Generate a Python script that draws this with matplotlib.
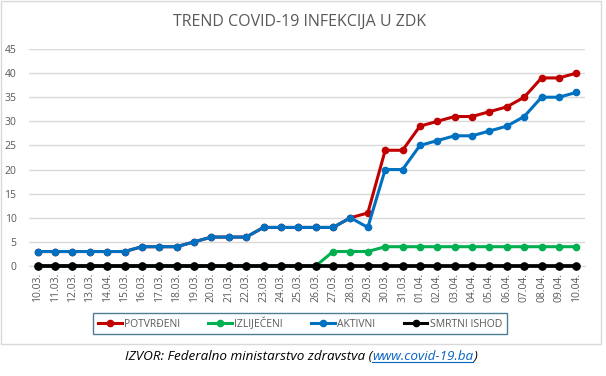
import numpy as np
import matplotlib.pyplot as plt
from matplotlib.lines import Line2D
from matplotlib.patches import Rectangle

plt.rcParams['font.family'] = ['Open Sans', 'DejaVu Sans']

dates = ['10.03.', '11.03.', '12.03.', '13.03.', '14.04.', '15.03.', '16.03.', '17.03.',
         '18.03.', '19.03.', '20.03.', '21.03.', '22.03.', '23.03.', '24.03.', '25.03.',
         '26.03.', '27.03.', '28.03.', '29.03.', '30.03.', '31.03.', '01.04.', '02.04.',
         '03.04.', '04.04.', '05.04.', '06.04.', '07.04.', '08.04.', '09.04.', '10.04.']

potvrdeni = [3, 3, 3, 3, 3, 3, 4, 4, 4, 5, 6, 6, 6, 8, 8, 8, 8, 8, 10, 11, 24, 24,
             29, 30, 31, 31, 32, 33, 35, 39, 39, 40]
izlijeceni = [0, 0, 0, 0, 0, 0, 0, 0, 0, 0, 0, 0, 0, 0, 0, 0, 0, 3, 3, 3, 4, 4,
              4, 4, 4, 4, 4, 4, 4, 4, 4, 4]
aktivni = [3, 3, 3, 3, 3, 3, 4, 4, 4, 5, 6, 6, 6, 8, 8, 8, 8, 8, 10, 8, 20, 20,
           25, 26, 27, 27, 28, 29, 31, 35, 35, 36]
smrtni = [0] * 32

series = [('POTVRĐENI', potvrdeni, '#C00000'),
          ('IZLIJEČENI', izlijeceni, '#00B050'),
          ('AKTIVNI', aktivni, '#0070C0'),
          ('SMRTNI ISHOD', smrtni, '#000000')]

fig = plt.figure(figsize=(6.06, 3.76), dpi=100)
W, H = 606, 376

# chart border
fig.patches.append(Rectangle((0.5 / W, 1 - 344 / H), 600 / W, 343 / H,
                             transform=fig.transFigure, fill=False,
                             edgecolor='#D9D9D9', linewidth=1))

ax = fig.add_axes([29 / W, 1 - 266 / H, 556 / W, 217 / H])
x = np.arange(len(dates))
for name, vals, col in series:
    lw, ms = (2.7, 5.2) if col == '#000000' else (2.2, 4.5)
    ax.plot(x, vals, color=col, linewidth=lw, marker='o', markersize=ms,
            clip_on=False, zorder=3)

ax.set_xlim(-0.5, len(dates) - 0.5)
ax.set_ylim(0, 45)
ax.set_yticks(range(0, 46, 5))
ax.set_xticks(x)
ax.set_xticklabels(dates, rotation=90)
ax.tick_params(axis='both', length=0, colors='#595959', labelsize=7.5)
ax.tick_params(axis='y', pad=9)
ax.tick_params(axis='x', pad=5)
ax.grid(axis='y', color='#D9D9D9', linewidth=1)
ax.set_axisbelow(True)
for s in ['top', 'right', 'left']:
    ax.spines[s].set_visible(False)
ax.spines['bottom'].set_color('#D9D9D9')

fig.text(300 / W, 1 - 22 / H, 'TREND COVID-19 INFEKCIJA U ZDK', ha='center', va='center',
         fontsize=11.5, color='#595959')

handles = [Line2D([], [], color=c, linewidth=2.2, marker='o', markersize=4.5)
           for _, _, c in series]
leg = fig.legend(handles, [n for n, _, _ in series], loc='center',
                 bbox_to_anchor=(300 / W, 1 - 323.5 / H), ncol=4, fontsize=7.5,
                 frameon=True, fancybox=False, handlelength=2.3, handletextpad=0.2,
                 columnspacing=2.7, borderpad=0.45)
leg.get_frame().set_edgecolor('#1F5C7A')
leg.get_frame().set_linewidth(1)
for t in leg.get_texts():
    t.set_color('#595959')

# footer: source line with underlined link, centred as a whole
fy = 1 - 357 / H
fs = 9.7
r = fig.canvas.get_renderer()
p1 = fig.text(0, fy, 'IZVOR: Federalno ministarstvo zdravstva (', ha='left', va='center',
              fontsize=fs, style='italic', color='black')
p2 = fig.text(0, fy, 'www.covid-19.ba', ha='left', va='center',
              fontsize=fs, style='italic', color='#0563C1')
p3 = fig.text(0, fy, ')', ha='left', va='center', fontsize=fs, style='italic', color='black')
w1 = p1.get_window_extent(r).width
w2 = p2.get_window_extent(r).width
w3 = p3.get_window_extent(r).width
x0 = 301 - (w1 + w2 + w3) / 2
p1.set_x(x0 / W)
p2.set_x((x0 + w1) / W)
p3.set_x((x0 + w1 + w2) / W)
bb2 = p2.get_window_extent(r)
fig.add_artist(Line2D([(x0 + w1) / W, (x0 + w1 + w2) / W],
                      [(bb2.y0 + 1.5) / H, (bb2.y0 + 1.5) / H],
                      transform=fig.transFigure, color='#0563C1', linewidth=0.8))

fig.savefig('out.png', dpi=100)
